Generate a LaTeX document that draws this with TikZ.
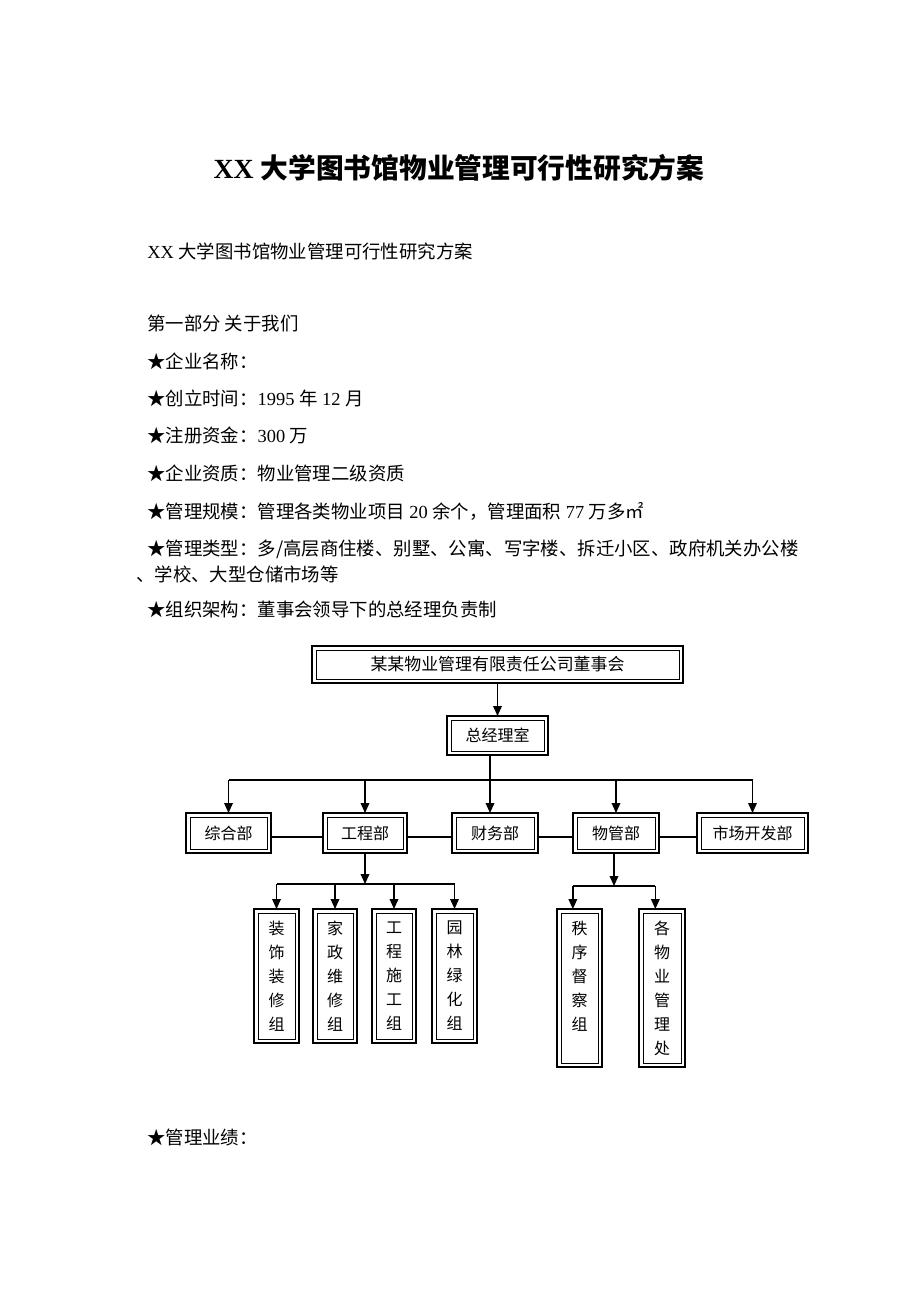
\documentclass[tikz,border=0pt]{standalone}
\usepackage{fontspec}
\setmainfont{Liberation Serif}
\newfontfamily\cjk{Noto Sans CJK SC}
\usetikzlibrary{arrows.meta,positioning}
\tikzset{
  wh/.style 2 args={minimum width={#1*0.75pt}, minimum height={#2*0.75pt}},
  dbox/.style={draw, line width=1.5pt, inner sep=0pt, outer sep=0pt, align=center,
    font=\cjk\fontsize{12}{18}\selectfont},
  link/.style={line width=1pt},
  arr/.style={link, -{Triangle[length=7.5pt,width=6.5pt]}},
  body/.style={anchor=west, inner sep=0pt, font=\fontsize{13.8}{16}\selectfont},
}
\newcommand{\zh}[1]{{\cjk #1}}

\begin{document}
\begin{tikzpicture}[x=0.75pt,y=-0.75pt]
  \useasboundingbox[fill=white] (0,0) rectangle (920,1302);

  % Text
  \node[inner sep=0pt, font=\bfseries\fontsize{20.8}{24}\selectfont] (title) at (459,168) {XX \zh{大学图书馆物业管理可行性研究方案}};
  \node[body] (l1)    at (147,251)  {XX \zh{大学图书馆物业管理可行性研究方案}};
  \node[body] (part)  at (147,323)  {\zh{第一部分 关于我们}};
  \node[body] (name)  at (147,361)  {\zh{★企业名称：}};
  \node[body] (time)  at (147,398)  {\zh{★创立时间：}1995 \zh{年} 12 \zh{月}};
  \node[body] (fund)  at (147,435)  {\zh{★注册资金：}300 \zh{万}};
  \node[body] (qual)  at (147,473)  {\zh{★企业资质：物业管理二级资质}};
  \node[body] (scale) at (147,511)  {\zh{★管理规模：管理各类物业项目} 20 \zh{余个，管理面积} 77 \zh{万多㎡}};
  \node[body] (type)  at (147,549)  {\zh{★管理类型：多/高层商住楼、别墅、公寓、写字楼、拆迁小区、政府机关办公楼}};
  \node[body] (typeb) at (136,574)  {\zh{、学校、大型仓储市场等}};
  \node[body] (org)   at (147,610)  {\zh{★组织架构：董事会领导下的总经理负责制}};
  \node[body] (perf)  at (147,1137) {\zh{★管理业绩：}};

  % Boxes
  \node[dbox, wh={371}{37}, font=\cjk\fontsize{12.7}{15}\selectfont] (dsh) at (497.5,664.5) {某某物业管理有限责任公司董事会};
  \node[dbox, wh={101}{39}] (zjl) at (497.5,735.5) {总经理室};

  \node[dbox, wh={85}{40}]  (zhb) at (228.5,833) {综合部};
  \node[dbox, wh={84}{40}]  (gcb) at (365,833)   {工程部};
  \node[dbox, wh={86}{40}]  (cwb) at (495,833)   {财务部};
  \node[dbox, wh={86}{40}]  (wgb) at (616,833)   {物管部};
  \node[dbox, wh={111}{40}] (scb) at (752.5,833) {市场开发部};

  \node[dbox, wh={45}{134}] (zsz) at (276.5,976) {装\\饰\\装\\修\\组};
  \node[dbox, wh={44}{134}] (jzz) at (335,976)   {家\\政\\维\\修\\组};
  \node[dbox, wh={44}{134}] (gsz) at (394,976)   {工\\程\\施\\工\\组};
  \node[dbox, wh={45}{134}] (ylz) at (454.5,976) {园\\林\\绿\\化\\组};

  \node[dbox, wh={45}{158}] (zxz) at (579.5,988) {秩\\序\\督\\察\\组\\~};
  \node[dbox, wh={46}{158}] (gwc) at (662,988)   {各\\物\\业\\管\\理\\处};

  % Inner frames
  \foreach \n in {dsh,zjl,zhb,gcb,cwb,wgb,scb,zsz,jzz,gsz,ylz,zxz,gwc}
    \draw[line width=0.6pt] ([shift={(4,4)}]\n.north west) rectangle ([shift={(-4,-4)}]\n.south east);

  % Connectors
  \coordinate (busa) at (490,780);
  \coordinate (busb) at (365,884);
  \coordinate (busc) at (614,886);

  \draw[arr] (dsh.south) -- (zjl.north);
  \draw[arr] (zjl.south -| busa) -- (busa |- cwb.north);
  \draw[link] (busa -| zhb) -- (busa -| scb);
  \foreach \n in {zhb,gcb,wgb,scb}
    \draw[arr] (busa -| \n) -- (\n.north);

  \draw[link] ([yshift=-3pt]zhb.east) -- ([yshift=-3pt]gcb.west);
  \draw[link] ([yshift=-3pt]gcb.east) -- ([yshift=-3pt]cwb.west);
  \draw[link] ([yshift=-3pt]cwb.east) -- ([yshift=-3pt]wgb.west);
  \draw[link] ([yshift=-3pt]wgb.east) -- ([yshift=-3pt]scb.west);

  \draw[arr] (gcb.south) -- (busb);
  \draw[link] (busb -| zsz) -- (busb -| ylz);
  \foreach \n in {zsz,jzz,gsz,ylz}
    \draw[arr] (busb -| \n) -- (\n.north);

  \draw[arr] (busc |- wgb.south) -- (busc);
  \draw[link] ([xshift=-5pt]busc -| zxz) -- ([xshift=-5pt]busc -| gwc);
  \foreach \n in {zxz,gwc}
    \draw[arr] ([xshift=-5pt]busc -| \n) -- ([xshift=-5pt]\n.north);
\end{tikzpicture}
\end{document}
